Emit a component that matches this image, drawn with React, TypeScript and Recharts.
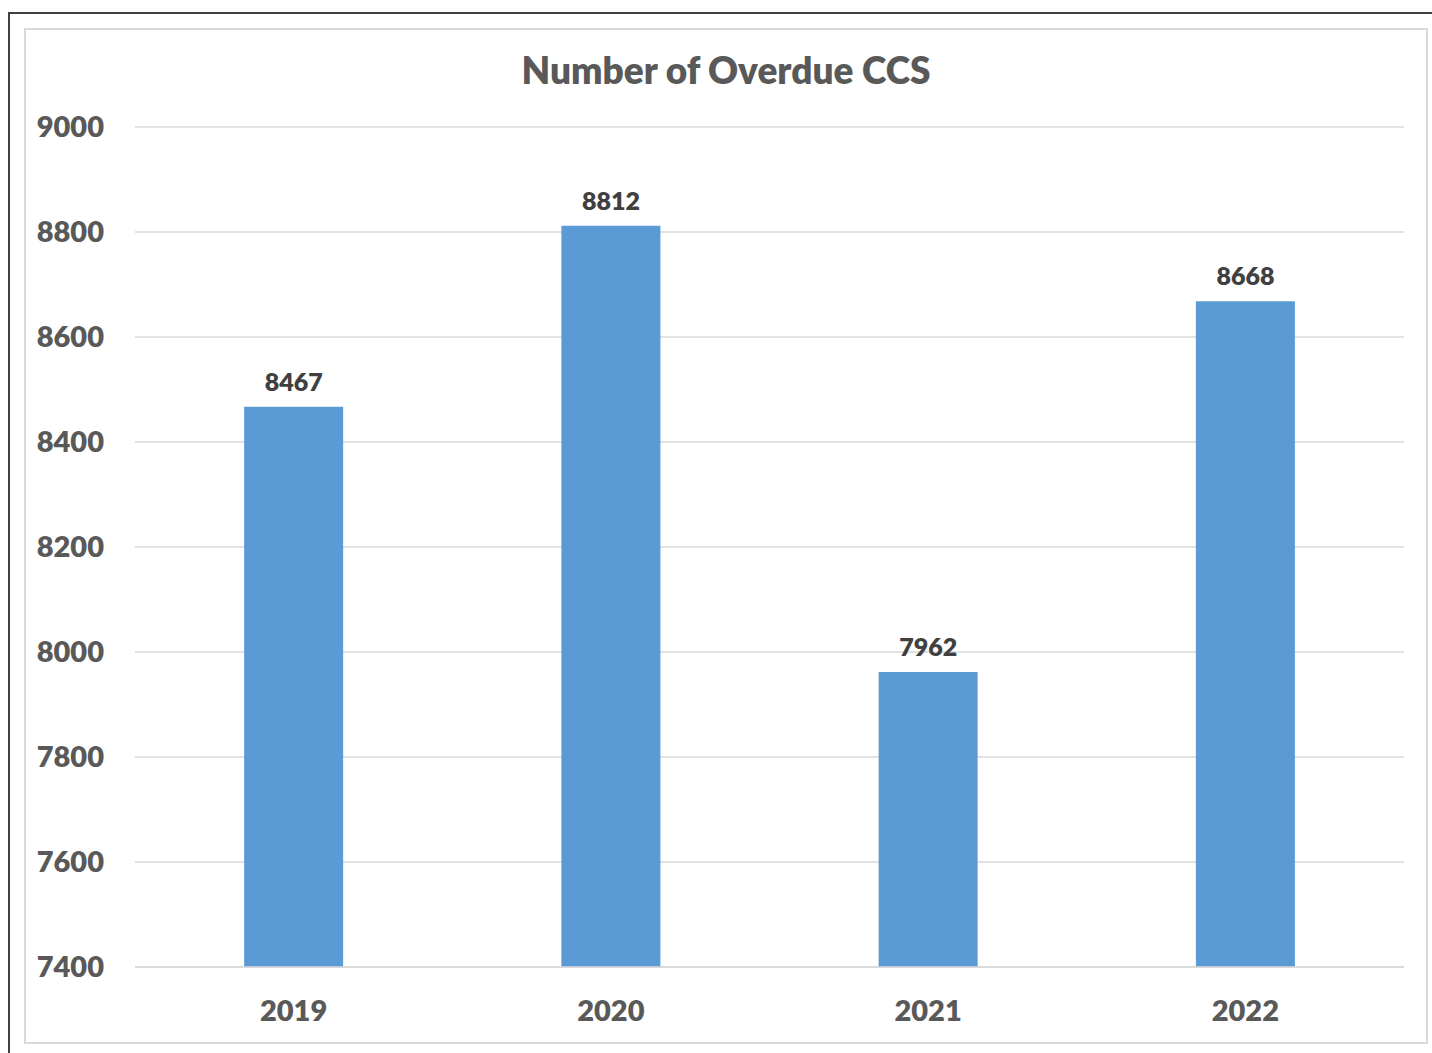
import { Bar, BarChart, CartesianGrid, LabelList, XAxis, YAxis } from "recharts";

const YEARS = ["2019", "2020", "2021", "2022"];
const OVERDUE = [8467, 8812, 7962, 8668];
const Y_TICKS = [7400, 7600, 7800, 8000, 8200, 8400, 8600, 8800, 9000];

const rows = YEARS.map((year, i) => ({ year, overdue: OVERDUE[i] }));

const FONT = "Lato, 'Open Sans', sans-serif";
const GREY = "#595959";

export default function App() {
  return (
    <div style={{ position: "fixed", left: 0, top: 0, width: 1432, height: 1053, background: "#fff", overflow: "hidden" }}>
      <div style={{ position: "absolute", left: 8, top: 12, width: 1440, height: 1060, border: "2px solid #404040", boxSizing: "border-box" }} />
      <div style={{ position: "absolute", left: 24, top: 28, width: 1404, height: 1016, border: "2px solid #d9d9d9", boxSizing: "border-box" }} />
      <div
        style={{
          position: "absolute",
          left: 0,
          top: 47,
          width: 1452,
          textAlign: "center",
          fontFamily: FONT,
          fontWeight: 800,
          fontSize: 37,
          color: GREY,
        }}
      >
        Number of Overdue CCS
      </div>
      <div style={{ position: "absolute", left: 0, top: 0 }}>
        <BarChart width={1432} height={1053} data={rows} margin={{ top: 127, right: 28, bottom: 0, left: 35 }} barCategoryGap="34.4%">
          <CartesianGrid vertical={false} stroke="#d9d9d9" strokeWidth={1.5} />
          <XAxis
            dataKey="year"
            axisLine={{ stroke: "#d9d9d9", strokeWidth: 1.5 }}
            tickLine={false}
            tickSize={0}
            tickMargin={33}
            height={86}
            tick={{ fill: GREY, fontFamily: FONT, fontWeight: 800, fontSize: 29 }}
          />
          <YAxis
            width={100}
            domain={[7400, 9000]}
            ticks={Y_TICKS}
            axisLine={false}
            tickLine={false}
            tickSize={0}
            tickMargin={31}
            tick={{ fill: GREY, fontFamily: FONT, fontWeight: 800, fontSize: 29 }}
          />
          <Bar dataKey="overdue" fill="#5b9bd5" isAnimationActive={false}>
            <LabelList dataKey="overdue" position="top" offset={16} fill="#404040" fontFamily={FONT} fontWeight={800} fontSize={25} />
          </Bar>
        </BarChart>
      </div>
    </div>
  );
}
